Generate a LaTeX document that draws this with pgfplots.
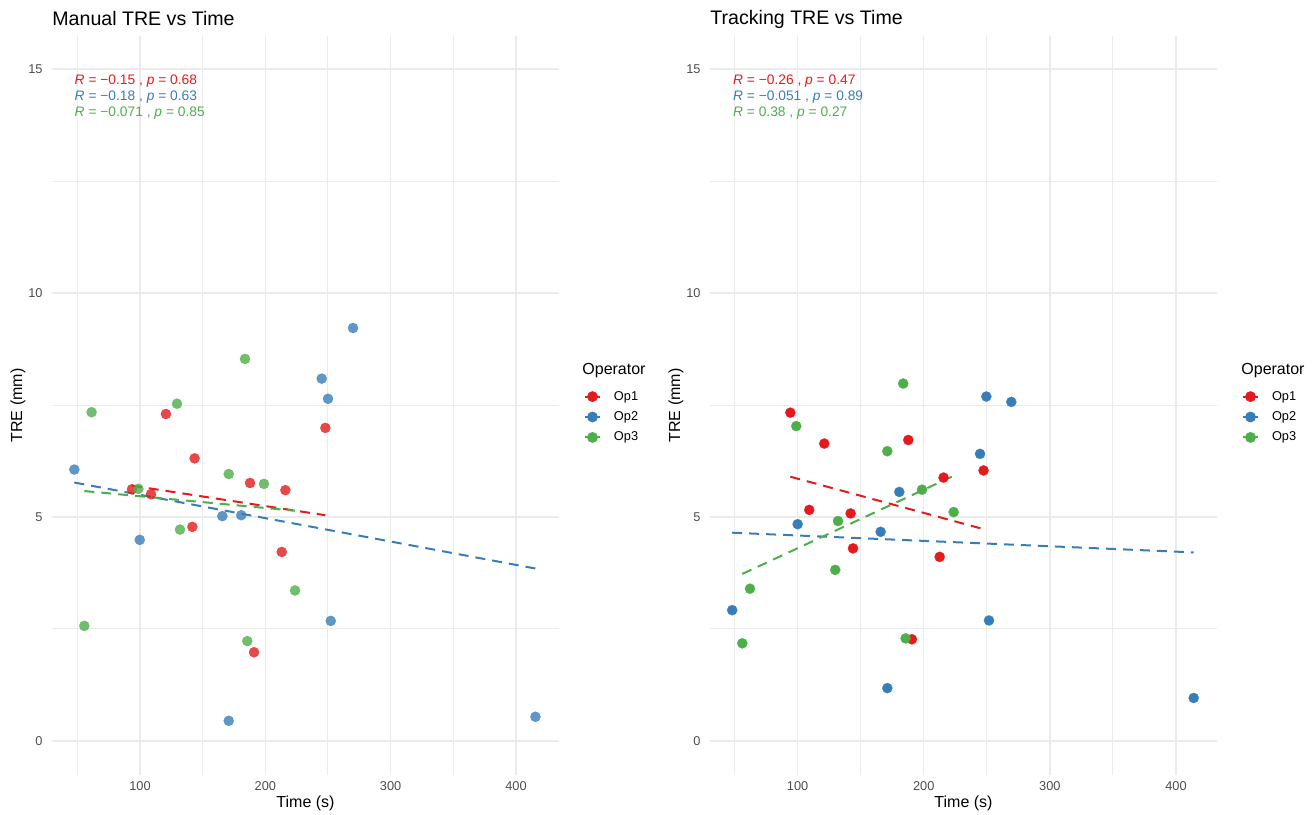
\documentclass[border=0pt]{standalone}
\usepackage{fontspec}
\setmainfont{Liberation Sans}
\usepackage{pgfplots}
\pgfplotsset{compat=1.18}
\definecolor{cR}{HTML}{E41A1C}
\definecolor{cB}{HTML}{377EB8}
\definecolor{cG}{HTML}{4DAF4A}
\definecolor{gridc}{HTML}{EBEBEB}
\definecolor{tickc}{HTML}{4D4D4D}
\newcommand{\legimg}[1]{\addlegendimage{legend image code/.code={\draw[#1,line width=1pt] (0pt,0pt)--(7.5pt,0pt); \fill[#1] (3.75pt,0pt) circle (2.5pt);}}}
\pgfplotsset{
  panel/.style={
    scale only axis, width=253.5pt, height=369.5pt, anchor=south west,
    ymin=-0.76, ymax=15.74,
    axis line style={draw=none},
    major tick style={draw=none}, minor tick style={draw=none},
    xtick={100,200,300,400}, ytick={0,5,10,15},
    minor xtick={50,150,250,350}, minor ytick={2.5,7.5,12.5},
    grid=both,
    major grid style={gridc, line width=0.7pt},
    minor grid style={gridc, line width=0.5pt},
    /pgf/number format/assume math mode=true,
    ticklabel style={font=\fontsize{6.4}{7}\selectfont, text=tickc},
    xticklabel style={inner sep=0pt, yshift=-3pt},
    yticklabel style={inner sep=0pt, xshift=-4.5pt},
    xlabel={Time (s)}, ylabel={TRE (mm)},
    label style={font=\fontsize{8}{9}\selectfont},
    xlabel style={at={(axis description cs:0.5,-0.0379)}, anchor=center},
    ylabel style={at={(axis description cs:-0.0671,0.5)}, anchor=center},
    title style={at={(axis description cs:0,1)}, anchor=west, yshift=2.5pt, inner sep=0pt, font=\fontsize{9.8}{11}\selectfont},
    legend style={at={(axis description cs:1.0493,0.4844)}, anchor=west, draw=none, fill=none, inner sep=0pt, outer sep=0pt,
      font=\fontsize{6.4}{7}\selectfont, row sep=3.7pt,
      /tikz/every odd column/.append style={column sep=6.5pt},
      nodes={inner sep=0pt, text height=5pt, text depth=1.5pt}},
    legend cell align=left,
    clip=false,
  },
  pts/.style={only marks, mark=*, mark size=2.55pt, color=#1, mark options={line width=0.1pt, draw=#1, fill=#1}},
  ptsa/.style={only marks, mark=*, mark size=2.55pt, color=#1, mark options={line width=0.1pt, draw=#1, fill=#1, fill opacity=0.8, draw opacity=0.8}},
  fit/.style={#1, line width=1pt, dash pattern=on 5pt off 3.5pt},
}
\begin{document}
\begin{tikzpicture}
\useasboundingbox (0,0) rectangle (656pt,407pt);
% ---------------- Left panel ----------------
\begin{axis}[panel, at={(26pt,19.5pt)}, xmin=29.8, xmax=434.3, title={Manual TRE vs Time}]
\legimg{cR}\addlegendentry{Op1}
\legimg{cB}\addlegendentry{Op2}
\legimg{cG}\addlegendentry{Op3}
\addplot[ptsa=cR] table {
x y
120.7 7.30
143.6 6.31
247.9 6.99
187.8 5.76
216.0 5.60
93.6 5.62
108.8 5.51
141.8 4.78
213.1 4.22
191.0 1.98
};
\addplot[ptsa=cB] table {
x y
47.6 6.06
270.0 9.22
245.0 8.09
250.0 7.64
165.7 5.02
180.8 5.04
99.8 4.49
252.2 2.68
170.8 0.45
415.5 0.54
};
\addplot[ptsa=cG] table {
x y
61.4 7.34
129.5 7.53
183.8 8.53
170.8 5.96
198.9 5.74
98.7 5.63
131.9 4.72
223.7 3.36
185.6 2.23
55.6 2.57
};
\addplot[fit=cR] coordinates {(93.6,5.70) (247.9,5.04)};
\addplot[fit=cB] coordinates {(47.6,5.77) (415.5,3.85)};
\addplot[fit=cG] coordinates {(55.6,5.58) (223.7,5.14)};
\node[anchor=west, inner sep=0pt, text=cR, font=\fontsize{6.9}{8}\selectfont] at (axis cs:47.6,14.74) {\textit{R} = −0.15 , \textit{p} = 0.68};
\node[anchor=west, inner sep=0pt, text=cB, font=\fontsize{6.9}{8}\selectfont] at (axis cs:47.6,14.37) {\textit{R} = −0.18 , \textit{p} = 0.63};
\node[anchor=west, inner sep=0pt, text=cG, font=\fontsize{6.9}{8}\selectfont] at (axis cs:47.6,14.01) {\textit{R} = −0.071 , \textit{p} = 0.85};
\end{axis}
\node[anchor=west, inner sep=0pt, font=\fontsize{8}{9}\selectfont] at (291pt,221.5pt) {Operator};
% ---------------- Right panel ----------------
\begin{axis}[panel, at={(355pt,19.5pt)}, xmin=30.5, xmax=432.5, title={Tracking TRE vs Time}]
\legimg{cR}\addlegendentry{Op1}
\legimg{cB}\addlegendentry{Op2}
\legimg{cG}\addlegendentry{Op3}
\addplot[pts=cR] table {
x y
94.2 7.33
121.1 6.64
187.7 6.72
247.4 6.04
215.7 5.88
109.2 5.16
142.0 5.08
143.9 4.30
212.6 4.11
190.6 2.27
};
\addplot[pts=cB] table {
x y
249.6 7.69
269.4 7.57
244.6 6.41
180.6 5.56
100.0 4.84
165.8 4.67
48.1 2.92
251.7 2.69
171.1 1.18
414.0 0.96
};
\addplot[pts=cG] table {
x y
183.7 7.98
98.9 7.03
171.1 6.47
198.6 5.61
223.7 5.11
132.0 4.91
129.8 3.82
62.2 3.40
56.1 2.18
185.6 2.29
};
\addplot[fit=cR] coordinates {(94.2,5.90) (247.4,4.73)};
\addplot[fit=cB] coordinates {(48.1,4.65) (414.0,4.21)};
\addplot[fit=cG] coordinates {(56.1,3.73) (223.7,5.92)};
\node[anchor=west, inner sep=0pt, text=cR, font=\fontsize{6.9}{8}\selectfont] at (axis cs:48.5,14.74) {\textit{R} = −0.26 , \textit{p} = 0.47};
\node[anchor=west, inner sep=0pt, text=cB, font=\fontsize{6.9}{8}\selectfont] at (axis cs:48.5,14.37) {\textit{R} = −0.051 , \textit{p} = 0.89};
\node[anchor=west, inner sep=0pt, text=cG, font=\fontsize{6.9}{8}\selectfont] at (axis cs:48.5,14.01) {\textit{R} = 0.38 , \textit{p} = 0.27};
\end{axis}
\node[anchor=west, inner sep=0pt, font=\fontsize{8}{9}\selectfont] at (620.5pt,221.5pt) {Operator};
\end{tikzpicture}
\end{document}
